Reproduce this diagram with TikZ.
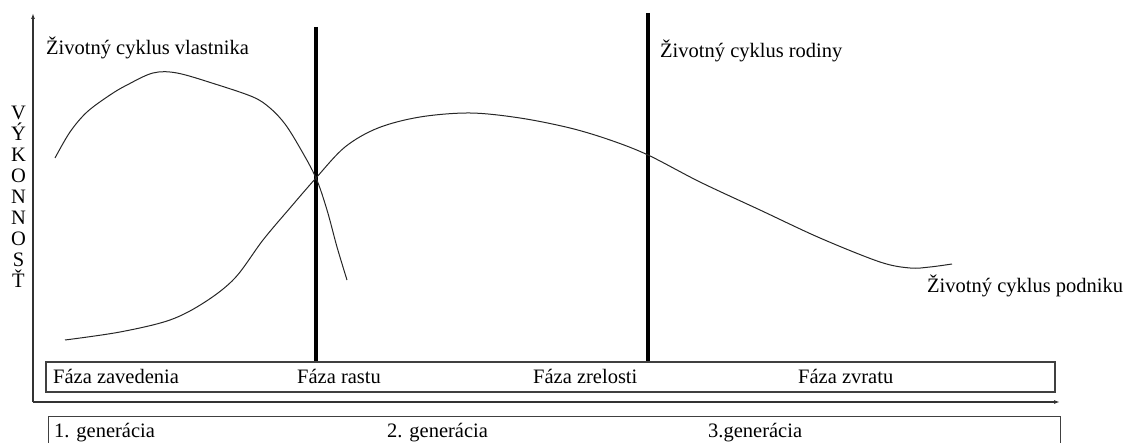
\documentclass[tikz,border=0pt]{standalone}
\usepackage{fontspec}
\setmainfont{Liberation Serif}
\usetikzlibrary{arrows.meta}
\begin{document}
\begin{tikzpicture}[x=1pt,y=-1pt,
  font=\fontsize{20.5}{21}\selectfont,
  axis/.style={draw=black!80, line width=1.3pt, -{Latex[length=6pt,width=4pt]}},
  bar/.style={draw=black, line width=4pt},
  curve/.style={draw=black!85, line width=1pt},
  boxframe/.style={draw=black!75, line width=1.4pt},
  lbl/.style={anchor=base west, inner sep=0pt}]
\useasboundingbox (0,0) rectangle (1124,443);
% axes
\coordinate (O) at (33,402);
\coordinate (ytop) at (33,13);
\coordinate (xend) at (1060,402);
\draw[axis] (O) -- (ytop);
\draw[axis] (O) -- (xend);
% boxes
\node[boxframe, minimum width=1009pt, minimum height=30pt, inner sep=0pt] (phase) at (550.5,377) {};
\node[boxframe, minimum width=1012pt, minimum height=60pt, inner sep=0pt, anchor=north west] (gen) at (48,416) {};
% vertical bars
\coordinate (b1top) at (316,27);
\coordinate (b2top) at (648,13);
\draw[bar] (b1top) -- (b1top |- phase.north);
\draw[bar] (b2top) -- (b2top |- phase.north);
% curves
\draw[curve] plot[smooth, tension=0.55] coordinates {(55,158) (70,132) (87,112) (110,95) (127,85) (153,73) (177,73) (215,84) (253,97) (270,108) (285,124) (300,148) (316,178) (327,210) (337,247) (347,280)};
\draw[curve] plot[smooth, tension=0.55] coordinates {(65,340) (120,332) (170,320) (205,302) (235,278) (263,240) (290,208) (316,178) (345,147) (378,128) (420,117) (470,113) (520,118) (570,128) (610,140) (648,155) (700,182) (760,210) (820,238) (880,262) (910,268) (930,267) (952,264)};
% labels
\node[lbl] (tv) at (46,55) {Životný cyklus vlastnika};
\node[lbl] (tr) at (660,58) {Životný cyklus rodiny};
\node[lbl] (tp) at (927,293) {Životný cyklus podniku};
\node[align=center, inner sep=0pt] (ylab) at (18.5,197) {V\\Ý\\K\\O\\N\\N\\O\\S\\Ť};
\node[lbl] (p1) at (53,383) {Fáza zavedenia};
\node[lbl] (p2) at (297,383) {Fáza rastu};
\node[lbl] (p3) at (533,383) {Fáza zrelosti};
\node[lbl] (p4) at (798,383) {Fáza zvratu};
\node[lbl] (g1) at (54,437) {1. generácia};
\node[lbl] (g2) at (387,437) {2. generácia};
\node[lbl] (g3) at (708,437) {3.generácia};
\end{tikzpicture}
\end{document}
